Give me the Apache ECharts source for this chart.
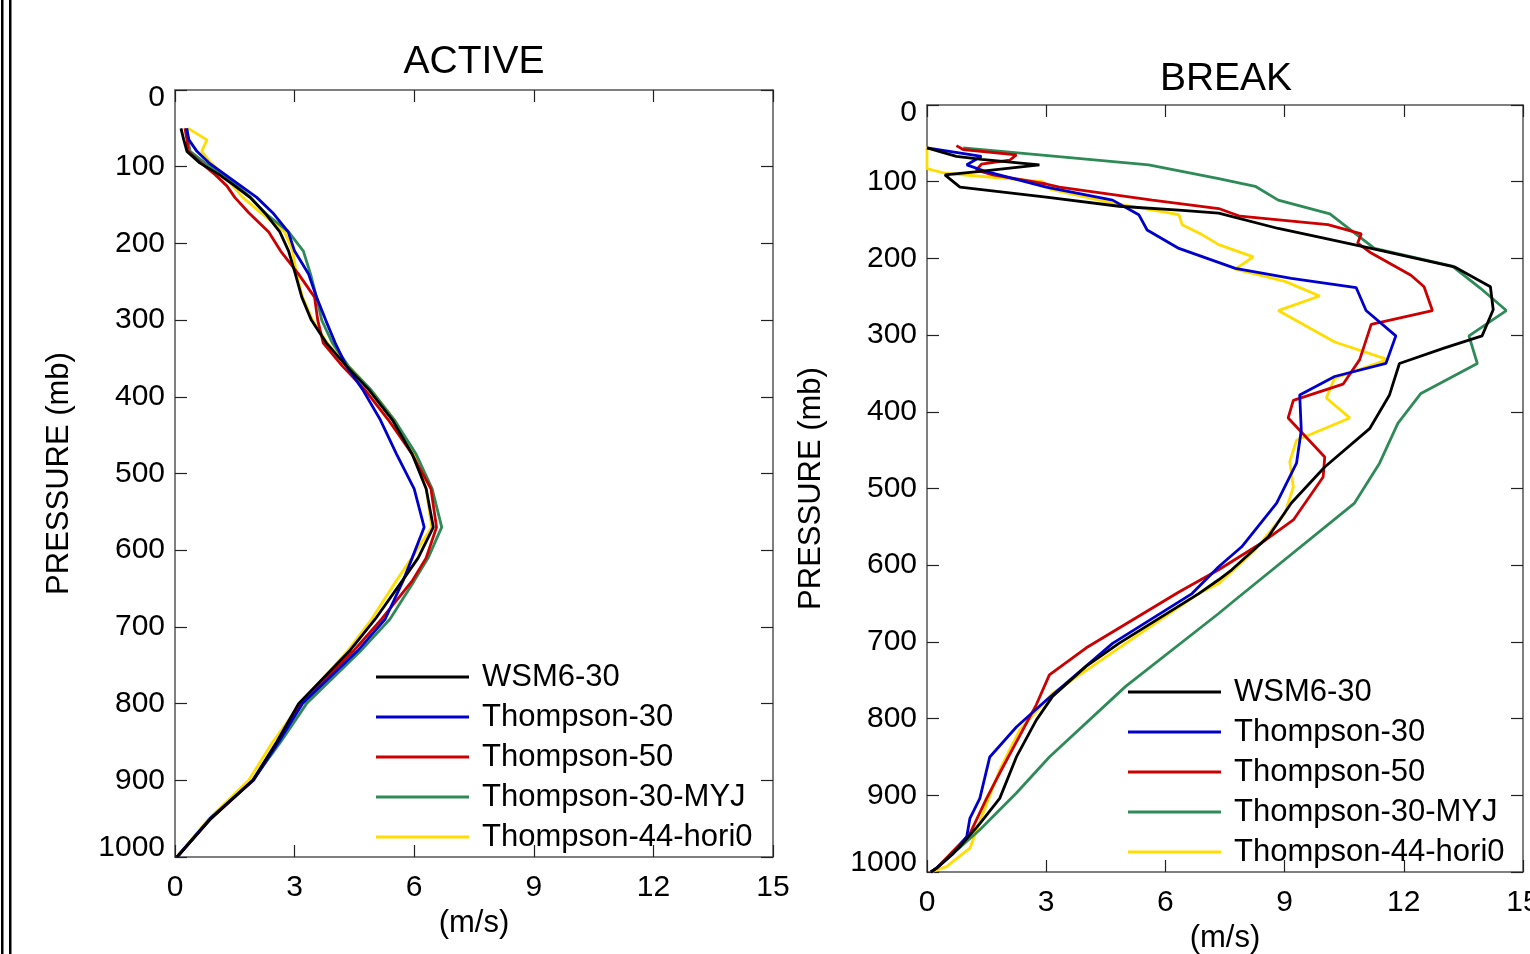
<!DOCTYPE html>
<html>
<head>
<meta charset="utf-8">
<script src="https://cdn.jsdelivr.net/npm/echarts@6/dist/echarts.min.js"></script>
<style>
html,body{margin:0;padding:0;background:#fff;}
#chart{width:1530px;height:954px;}
</style>
</head>
<body>
<div id="chart"></div>
<script>
// ---------- DATA ----------
const seriesNames = ['WSM6-30', 'Thompson-30', 'Thompson-50', 'Thompson-30-MYJ', 'Thompson-44-hori0'];
const xTicks = [0, 3, 6, 9, 12, 15];
const yTicks = [0, 100, 200, 300, 400, 500, 600, 700, 800, 900, 1000];

// ACTIVE panel: shared pressure levels (mb)
const activeP = [50, 65, 80, 95, 110, 125, 140, 160, 185, 210, 240, 270, 300, 330, 360, 390, 430, 475, 520, 570, 610, 640, 690, 730, 800, 850, 900, 950, 1000];
const activeWSM6 = [0.15, 0.22, 0.30, 0.62, 1.10, 1.50, 1.88, 2.25, 2.63, 2.85, 3.02, 3.18, 3.42, 3.80, 4.30, 4.85, 5.45, 5.95, 6.30, 6.48, 6.10, 5.70, 5.02, 4.40, 3.10, 2.55, 1.95, 0.90, 0.05];
const activeT30  = [0.29, 0.35, 0.55, 0.85, 1.25, 1.65, 2.05, 2.45, 2.84, 3.00, 3.35, 3.55, 3.78, 4.02, 4.30, 4.70, 5.15, 5.56, 6.00, 6.25, 5.95, 5.72, 5.27, 4.60, 3.20, 2.60, 1.97, 0.88, 0.05];
const activeT50  = [0.25, 0.30, 0.33, 0.65, 1.00, 1.30, 1.50, 1.85, 2.35, 2.65, 3.10, 3.50, 3.58, 3.72, 4.20, 4.75, 5.35, 5.95, 6.42, 6.56, 6.30, 5.95, 5.18, 4.50, 3.15, 2.58, 1.96, 0.90, 0.05];
const activeMYJ  = [0.30, 0.32, 0.38, 0.75, 1.20, 1.55, 1.90, 2.25, 2.85, 3.22, 3.40, 3.55, 3.68, 3.95, 4.35, 4.90, 5.50, 6.05, 6.45, 6.69, 6.35, 6.00, 5.39, 4.68, 3.30, 2.65, 1.95, 0.88, 0.05];
const activeHori0 = [0.33, 0.80, 0.67, 0.90, 1.20, 1.45, 1.70, 2.15, 2.75, 2.95, 3.05, 3.20, 3.45, 3.82, 4.35, 4.90, 5.50, 6.00, 6.30, 6.44, 5.94, 5.55, 4.93, 4.35, 3.15, 2.45, 1.85, 0.85, 0.05];

// BREAK panel: each run has its own pressure levels
const breakWSM6P = [56, 67, 71, 78, 87, 91, 107, 120, 132, 137, 141, 161, 172, 187, 211, 237, 267, 301, 317, 337, 378, 422, 472, 519, 563, 606, 619, 637, 702, 732, 771, 802, 850, 904, 937, 967, 995, 1000];
const breakWSM6V = [0.00, 0.74, 1.37, 2.83, 1.28, 0.45, 0.83, 3.00, 4.83, 6.34, 7.34, 8.84, 9.84, 11.18, 13.27, 14.18, 14.25, 13.97, 13.01, 11.89, 11.64, 11.14, 10.01, 9.17, 8.59, 7.67, 7.34, 6.84, 4.83, 4.00, 3.16, 2.75, 2.25, 1.83, 1.33, 0.83, 0.24, 0.10];

const breakT30P = [56, 67, 78, 87, 107, 124, 143, 163, 187, 213, 226, 238, 268, 301, 337, 354, 378, 424, 467, 519, 576, 602, 637, 702, 776, 811, 850, 904, 930, 954, 976, 995, 1000];
const breakT30V = [0.00, 1.37, 1.00, 1.50, 3.00, 4.67, 5.33, 5.54, 6.34, 7.76, 9.17, 10.80, 11.05, 11.80, 11.55, 10.26, 9.38, 9.42, 9.30, 8.80, 7.92, 7.34, 6.67, 4.67, 3.00, 2.25, 1.58, 1.33, 1.08, 1.00, 0.66, 0.24, 0.10];

const breakT50P = [53, 58, 65, 72, 77, 85, 91, 103, 107, 124, 135, 145, 156, 168, 180, 193, 222, 237, 268, 286, 332, 364, 385, 408, 459, 485, 541, 571, 606, 635, 708, 743, 782, 867, 904, 950, 995, 1000];
const breakT50V = [0.74, 0.91, 2.25, 2.08, 1.37, 1.24, 1.66, 3.00, 3.33, 5.67, 7.34, 7.88, 10.09, 10.93, 10.84, 11.18, 12.18, 12.51, 12.72, 11.18, 10.89, 10.47, 9.22, 9.09, 10.01, 9.97, 9.22, 8.42, 7.34, 6.34, 4.00, 3.08, 2.75, 1.87, 1.50, 1.08, 0.24, 0.10];

const breakMYJP = [56, 78, 96, 106, 124, 142, 187, 210, 239, 268, 301, 337, 376, 415, 467, 519, 645, 663, 758, 850, 897, 945, 995, 1000];
const breakMYJV = [0.91, 5.58, 7.34, 8.26, 8.84, 10.14, 11.26, 13.22, 13.93, 14.58, 13.64, 13.85, 12.43, 11.85, 11.39, 10.76, 7.76, 7.34, 5.00, 3.08, 2.25, 1.33, 0.24, 0.10];

const breakHori0P = [54, 83, 89, 100, 110, 128, 143, 156, 169, 182, 198, 214, 230, 249, 268, 309, 332, 356, 382, 408, 437, 465, 498, 532, 580, 624, 637, 702, 767, 815, 867, 911, 969, 993, 1000];
const breakHori0V = [0.00, 0.00, 0.45, 2.91, 3.12, 4.67, 6.34, 6.42, 6.92, 7.34, 8.21, 7.76, 9.01, 9.88, 8.84, 10.26, 11.60, 10.26, 10.05, 10.64, 9.30, 9.13, 9.22, 9.01, 8.26, 7.34, 6.84, 5.00, 3.16, 2.33, 1.83, 1.50, 1.08, 0.49, 0.10];

// ---------- STYLE ----------
const colors = ['#000000', '#0000cc', '#cc0000', '#2e8b57', '#ffdd00'];
const FONT = '"Liberation Sans", Arial, Helvetica, sans-serif';

function pairs(vals, ps) { return vals.map((v, i) => [v, ps[i]]); }

const activeSets = [activeWSM6, activeT30, activeT50, activeMYJ, activeHori0];
const breakSets = [[breakWSM6V, breakWSM6P], [breakT30V, breakT30P], [breakT50V, breakT50P], [breakMYJV, breakMYJP], [breakHori0V, breakHori0P]];

const grids = [
  { left: 175, top: 90, width: 598, height: 767, containLabel: false, outerBoundsMode: 'none' },
  { left: 927, top: 105, width: 596, height: 767, containLabel: false, outerBoundsMode: 'none' }
];

const axisLineStyle = { onZero: false, lineStyle: { color: '#555', width: 1.5 } };
const tickStyle = { inside: true, length: 12, lineStyle: { color: '#222', width: 1.2 } };
const labelText = { fontSize: 30, color: '#000', fontFamily: FONT };

const xAxes = [], yAxes = [];
[0, 1].forEach(g => {
  xAxes.push({
    type: 'value', gridIndex: g, position: 'bottom', min: xTicks[0], max: xTicks[xTicks.length - 1], interval: 3,
    axisLine: axisLineStyle, axisTick: tickStyle, splitLine: { show: false },
    axisLabel: Object.assign({ margin: 16, formatter: v => String(v) }, labelText),
    name: '(m/s)', nameLocation: 'middle', nameGap: 51,
    nameTextStyle: { fontSize: 31, color: '#000', fontFamily: FONT }
  });
  xAxes.push({
    type: 'value', gridIndex: g, position: 'top', min: 0, max: 15, interval: 3,
    axisLine: axisLineStyle, axisTick: tickStyle, splitLine: { show: false }, axisLabel: { show: false }
  });
  yAxes.push({
    type: 'value', gridIndex: g, position: 'left', inverse: true, min: yTicks[0], max: yTicks[yTicks.length - 1], interval: 100,
    axisLine: axisLineStyle, axisTick: tickStyle, splitLine: { show: false },
    axisLabel: Object.assign({
      margin: 10,
      formatter: v => v === 0 ? '{top|0}' : (v === 1000 ? '{bot|1000}' : String(v)),
      rich: {
        top: Object.assign({ padding: [16, 0, 0, 0] }, labelText),
        bot: Object.assign({ padding: [0, 0, 18, 0] }, labelText)
      }
    }, labelText),
    name: 'PRESSURE (mb)', nameLocation: 'middle', nameGap: 100, nameRotate: 90,
    nameTextStyle: { fontSize: 31, color: '#000', fontFamily: FONT }
  });
  yAxes.push({
    type: 'value', gridIndex: g, position: 'right', inverse: true, min: 0, max: 1000, interval: 100,
    axisLine: axisLineStyle, axisTick: tickStyle, splitLine: { show: false }, axisLabel: { show: false }
  });
});

const series = [];
seriesNames.forEach((name, i) => {
  series.push({
    name, type: 'line', xAxisIndex: 0, yAxisIndex: 0, data: pairs(activeSets[i], activeP),
    showSymbol: false, symbol: 'none', lineStyle: { color: colors[i], width: 2.8 }, itemStyle: { color: colors[i] },
    z: 10 - i, animation: false
  });
});
seriesNames.forEach((name, i) => {
  series.push({
    name, type: 'line', xAxisIndex: 2, yAxisIndex: 2, data: pairs(breakSets[i][0], breakSets[i][1]),
    showSymbol: false, symbol: 'none', lineStyle: { color: colors[i], width: 2.8 }, itemStyle: { color: colors[i] },
    z: 10 - i, animation: false
  });
});

function legendAt(left, top) {
  return {
    orient: 'vertical', left, top, data: seriesNames, icon: 'rect', itemWidth: 93, itemHeight: 3,
    itemGap: 8, selectedMode: false,
    textStyle: { fontSize: 31, color: '#000', fontFamily: FONT, lineHeight: 32, padding: [0, 0, 0, 8] }
  };
}

const option = {
  animation: false,
  backgroundColor: '#fff',
  title: [
    { text: 'ACTIVE', left: 469, top: 38, textAlign: 'center', textStyle: { fontSize: 39, fontWeight: 'normal', color: '#000', fontFamily: FONT } },
    { text: 'BREAK', left: 1221, top: 55, textAlign: 'center', textStyle: { fontSize: 39, fontWeight: 'normal', color: '#000', fontFamily: FONT } }
  ],
  grid: grids,
  xAxis: xAxes,
  yAxis: yAxes,
  legend: [legendAt(371, 656), legendAt(1123, 671)],
  series,
  graphic: [
    { type: 'rect', shape: { x: 1, y: 0, width: 2.5, height: 954 }, style: { fill: '#000' }, silent: true },
    { type: 'rect', shape: { x: 9, y: 0, width: 2.5, height: 954 }, style: { fill: '#000' }, silent: true }
  ]
};

const chart = echarts.init(document.getElementById('chart'), null, { renderer: 'canvas' });
chart.setOption(option);
</script>
</body>
</html>
